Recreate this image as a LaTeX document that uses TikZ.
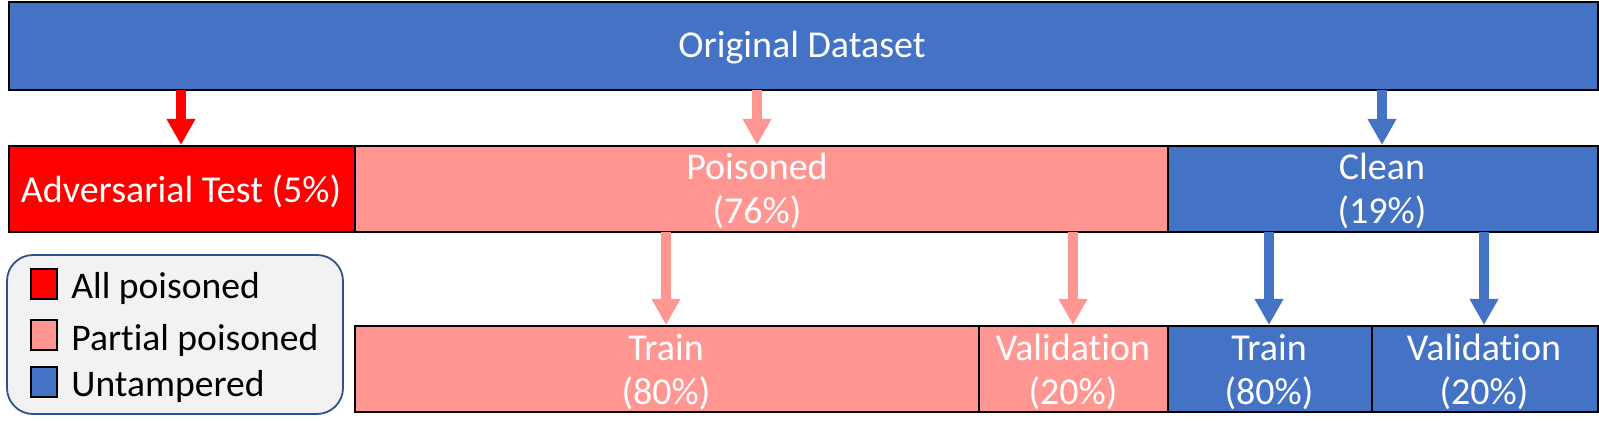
\documentclass[tikz,border=0pt]{standalone}
\usepackage{fontspec}
\setmainfont{Carlito}[Ligatures=NoCommon]
\usetikzlibrary{arrows.meta}
\definecolor{cblue}{HTML}{4472C4}
\definecolor{cpink}{HTML}{FF9692}
\definecolor{cred}{HTML}{FF0000}
\definecolor{legfill}{HTML}{F2F2F2}
\definecolor{legdraw}{HTML}{2F528F}
\tikzset{
  boxs/.style={draw=black, line width=1pt, anchor=north west, inner sep=0pt, minimum height=43pt},
  lbl/.style={text=white, align=center, font=\fontsize{19}{22}\selectfont, inner sep=0pt},
  legtxt/.style={text=black, anchor=base west, font=\fontsize{18.8}{22}\selectfont, inner sep=0pt},
  legsq/.style={draw=black, line width=1pt, anchor=north west, inner sep=0pt, minimum width=13pt, minimum height=15pt},
  arr/.style={line width=4.6pt, -{Triangle[width=13.5pt,length=13pt]}, shorten <=-0.5pt}
}
\begin{document}
\begin{tikzpicture}[x=0.5pt,y=-0.5pt]
\useasboundingbox (0,0) rectangle (1599,437);
% boxes
\node[boxs, fill=cblue, minimum width=794.5pt, minimum height=44pt] (orig) at (8,1) {};
\node[boxs, fill=cred, minimum width=173pt] (adv) at (8,145) {};
\node[boxs, fill=cpink, minimum width=406.5pt] (pois) at (354,145) {};
\node[boxs, fill=cblue, minimum width=215pt] (clean) at (1167,145) {};
\node[boxs, fill=cpink, minimum width=312pt] (ptrain) at (354,325) {};
\node[boxs, fill=cpink, minimum width=94.5pt] (pval) at (978,325) {};
\node[boxs, fill=cblue, minimum width=102pt] (btrain) at (1167,325) {};
\node[boxs, fill=cblue, minimum width=113pt] (bval) at (1371,325) {};
% labels
\node[lbl] (origt) at (802,48) {Original Dataset};
\node[lbl] (advt) at (181,191) {Adversarial Test (5\%)};
\node[lbl] (poist) at (757,191) {Poisoned\\(76\%)};
\node[lbl] (cleant) at (1382,191) {Clean\\(19\%)};
\node[lbl] (ptraint) at (666,372) {Train\\(80\%)};
\node[lbl] (pvalt) at (1073,372) {Validation\\(20\%)};
\node[lbl] (btraint) at (1269,372) {Train\\(80\%)};
\node[lbl] (bvalt) at (1484,372) {Validation\\(20\%)};
% arrows
\draw[arr, cred] (orig.south -| advt) -- (adv.north -| advt);
\draw[arr, cpink] (orig.south -| poist) -- (pois.north -| poist);
\draw[arr, cblue] (orig.south -| cleant) -- (clean.north -| cleant);
\draw[arr, cpink] (pois.south -| ptraint) -- (ptrain.north -| ptraint);
\draw[arr, cpink] (pois.south -| pvalt) -- (pval.north -| pvalt);
\draw[arr, cblue] (clean.south -| btraint) -- (btrain.north -| btraint);
\draw[arr, cblue] (clean.south -| bvalt) -- (bval.north -| bvalt);
% legend
\draw[draw=legdraw, fill=legfill, line width=0.9pt, rounded corners=13pt] (7,255) rectangle (343,414);
\node[legsq, fill=cred] (sq1) at (30,268) {};
\node[legsq, fill=cpink] (sq2) at (30,319) {};
\node[legsq, fill=cblue] (sq3) at (30,366) {};
\node[legtxt] (l1) at (71,299) {All poisoned};
\node[legtxt] (l2) at (71,351) {Partial poisoned};
\node[legtxt] (l3) at (71,397) {Untampered};
\end{tikzpicture}
\end{document}
